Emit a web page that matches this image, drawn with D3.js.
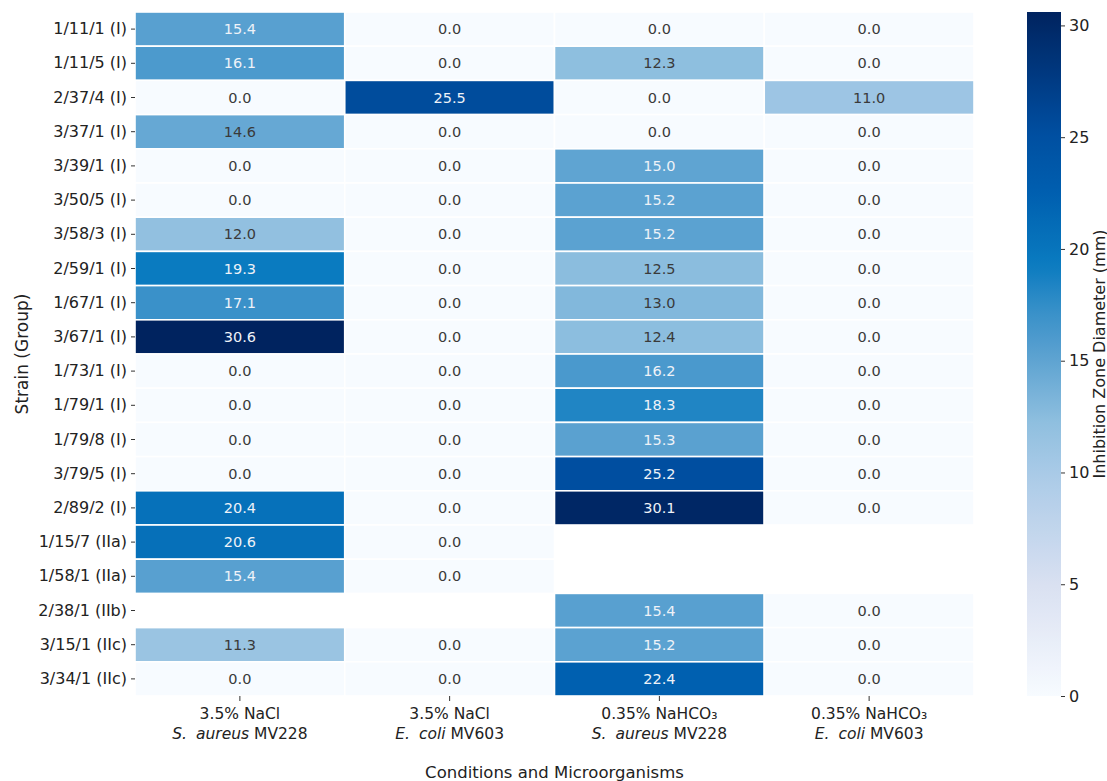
<!DOCTYPE html>
<html>
<head>
<meta charset="utf-8">
<script src="https://cdn.jsdelivr.net/npm/d3@7/dist/d3.min.js"></script>
<style>
  html, body { margin: 0; padding: 0; background: #fff; }
  svg { display: block; font-family: "DejaVu Sans", sans-serif; }
</style>
</head>
<body>
<svg id="chart" width="1107" height="781"></svg>
<script>
// Strains (rows) and test conditions (columns)
const strains = [
  "1/11/1 (I)", "1/11/5 (I)", "2/37/4 (I)", "3/37/1 (I)", "3/39/1 (I)",
  "3/50/5 (I)", "3/58/3 (I)", "2/59/1 (I)", "1/67/1 (I)", "3/67/1 (I)",
  "1/73/1 (I)", "1/79/1 (I)", "1/79/8 (I)", "3/79/5 (I)", "2/89/2 (I)",
  "1/15/7 (IIa)", "1/58/1 (IIa)", "2/38/1 (IIb)", "3/15/1 (IIc)", "3/34/1 (IIc)"
];
const conditionSalt = ["3.5% NaCl", "3.5% NaCl", "0.35% NaHCO\u2083", "0.35% NaHCO\u2083"];
const conditionSpecies = ["S. aureus", "E. coli", "S. aureus", "E. coli"];
const conditionStrain = ["MV228", "MV603", "MV228", "MV603"];

// Inhibition zone diameters (mm); null = not tested
const naclSaureus = [15.4, 16.1, 0.0, 14.6, 0.0, 0.0, 12.0, 19.3, 17.1, 30.6,
                     0.0, 0.0, 0.0, 0.0, 20.4, 20.6, 15.4, null, 11.3, 0.0];
const naclEcoli   = [0.0, 0.0, 25.5, 0.0, 0.0, 0.0, 0.0, 0.0, 0.0, 0.0,
                     0.0, 0.0, 0.0, 0.0, 0.0, 0.0, 0.0, null, 0.0, 0.0];
const nahco3Saureus = [0.0, 12.3, 0.0, 0.0, 15.0, 15.2, 15.2, 12.5, 13.0, 12.4,
                       16.2, 18.3, 15.3, 25.2, 30.1, null, null, 15.4, 15.2, 22.4];
const nahco3Ecoli = [0.0, 0.0, 11.0, 0.0, 0.0, 0.0, 0.0, 0.0, 0.0, 0.0,
                     0.0, 0.0, 0.0, 0.0, 0.0, null, null, 0.0, 0.0, 0.0];

const colorbarTicks = [0, 5, 10, 15, 20, 25, 30];

// Blues ramp as printed (value -> colour), and the reference ColorBrewer Blues
const rampValues = [0, 5, 10, 12.3, 15.4, 17.1, 19.3, 22.4, 25.2, 30.6];
const rampColors = ["#f7fbff", "#d9e0f1", "#a9cae7", "#8ebfdf", "#58a0d0",
                    "#3a91c9", "#0a7bc0", "#0060b0", "#004ea0", "#00235f"];
const bluesStops = ["#f7fbff", "#deebf7", "#c6dbef", "#9ecae1", "#6baed6",
                    "#4292c6", "#2171b5", "#08519c", "#08306b"];

const columns = [naclSaureus, naclEcoli, nahco3Saureus, nahco3Ecoli];
const cells = [];
columns.forEach((col, ci) => col.forEach((v, ri) => {
  if (v !== null) cells.push({ row: strains[ri], col: ci, value: v });
}));

const vmax = d3.max(cells, d => d.value);

const svg = d3.select("#chart");
const plot = { left: 135, top: 12, right: 974, bottom: 696 };
const cbar = { left: 1027, right: 1061 };

const x = d3.scaleBand().domain(d3.range(columns.length)).range([plot.left, plot.right]);
const y = d3.scaleBand().domain(strains).range([plot.top, plot.bottom]);
const color = d3.scaleLinear().domain(rampValues).range(rampColors)
  .interpolate(d3.interpolateRgb).clamp(true);
const bluesLinear = d3.scaleLinear()
  .domain(d3.range(bluesStops.length).map(i => i / (bluesStops.length - 1) * vmax))
  .range(bluesStops).interpolate(d3.interpolateRgb);

// relative luminance, used to pick a readable annotation colour
function luminance(c) {
  const rgb = d3.rgb(c);
  const ch = [rgb.r, rgb.g, rgb.b].map(v => {
    v /= 255;
    return v <= 0.03928 ? v / 12.92 : Math.pow((v + 0.055) / 1.055, 2.4);
  });
  return 0.2126 * ch[0] + 0.7152 * ch[1] + 0.0722 * ch[2];
}

// heatmap cells
const g = svg.append("g");
g.selectAll("rect.cell")
  .data(cells)
  .join("rect")
  .attr("class", "cell")
  .attr("x", d => x(d.col))
  .attr("y", d => y(d.row))
  .attr("width", x.bandwidth())
  .attr("height", y.bandwidth())
  .attr("fill", d => color(d.value))
  .attr("stroke", "#fff")
  .attr("stroke-width", 1.6);

g.selectAll("text.annot")
  .data(cells)
  .join("text")
  .attr("class", "annot")
  .attr("x", d => x(d.col) + x.bandwidth() / 2)
  .attr("y", d => y(d.row) + y.bandwidth() / 2)
  .attr("text-anchor", "middle")
  .attr("dominant-baseline", "central")
  .attr("font-size", 14.5)
  .attr("fill", d => luminance(bluesLinear(d.value)) > 0.408 ? "#3a3a3a" : "#eef2f8")
  .text(d => d.value.toFixed(1));

// y axis
const yAxis = svg.append("g")
  .attr("transform", `translate(${plot.left},0)`)
  .call(d3.axisLeft(y).tickSize(4).tickPadding(4));
yAxis.select(".domain").remove();
yAxis.selectAll(".tick line").attr("stroke", "#333").attr("stroke-width", 1);
yAxis.selectAll(".tick text").attr("font-size", 16).attr("fill", "#222")
  .attr("font-family", "DejaVu Sans");

// x axis with two-line labels
const xAxis = svg.append("g")
  .attr("transform", `translate(0,${plot.bottom})`)
  .call(d3.axisBottom(x).tickSize(5).tickFormat(() => ""));
xAxis.select(".domain").remove();
xAxis.selectAll(".tick line").attr("stroke", "#333");
xAxis.selectAll(".tick").each(function (i) {
  const t = d3.select(this).append("text")
    .attr("text-anchor", "middle")
    .attr("fill", "#222")
    .attr("font-size", 15.5)
    .attr("font-family", "DejaVu Sans");
  t.append("tspan").attr("x", 0).attr("y", 23).text(conditionSalt[i]);
  const l2 = t.append("tspan").attr("x", 0).attr("y", 43);
  const parts = conditionSpecies[i].split(" ");
  l2.append("tspan").attr("font-style", "italic").text(parts[0]);
  l2.append("tspan").attr("font-style", "italic").attr("dx", 9).text(parts[1]);
  l2.append("tspan").text(" " + conditionStrain[i]);
});

// axis titles
svg.append("text")
  .attr("x", (plot.left + plot.right) / 2)
  .attr("y", 778)
  .attr("text-anchor", "middle")
  .attr("font-size", 16.5)
  .attr("fill", "#222")
  .text("Conditions and Microorganisms");

svg.append("text")
  .attr("transform", `translate(28,${(plot.top + plot.bottom) / 2}) rotate(-90)`)
  .attr("text-anchor", "middle")
  .attr("font-size", 17)
  .attr("fill", "#222")
  .text("Strain (Group)");

// colorbar
const cy = d3.scaleLinear().domain([0, vmax]).range([plot.bottom, plot.top]);
const defs = svg.append("defs");
const grad = defs.append("linearGradient")
  .attr("id", "cbar-grad")
  .attr("x1", 0).attr("y1", 1).attr("x2", 0).attr("y2", 0);
d3.range(0, 1.0001, 0.02).forEach(t => {
  grad.append("stop").attr("offset", t).attr("stop-color", color(t * vmax));
});
svg.append("rect")
  .attr("x", cbar.left)
  .attr("y", plot.top)
  .attr("width", cbar.right - cbar.left)
  .attr("height", plot.bottom - plot.top)
  .attr("fill", "url(#cbar-grad)");

const cAxis = svg.append("g")
  .attr("transform", `translate(${cbar.right},0)`)
  .call(d3.axisRight(cy).tickValues(colorbarTicks).tickSize(4).tickPadding(4));
cAxis.select(".domain").remove();
cAxis.selectAll(".tick line").attr("stroke", "#333");
cAxis.selectAll(".tick text").attr("font-size", 16).attr("fill", "#222")
  .attr("font-family", "DejaVu Sans");

svg.append("text")
  .attr("transform", `translate(1099,${(plot.top + plot.bottom) / 2}) rotate(-90)`)
  .attr("text-anchor", "middle")
  .attr("dominant-baseline", "central")
  .attr("font-size", 16)
  .attr("fill", "#222")
  .text("Inhibition Zone Diameter (mm)");
</script>
</body>
</html>
